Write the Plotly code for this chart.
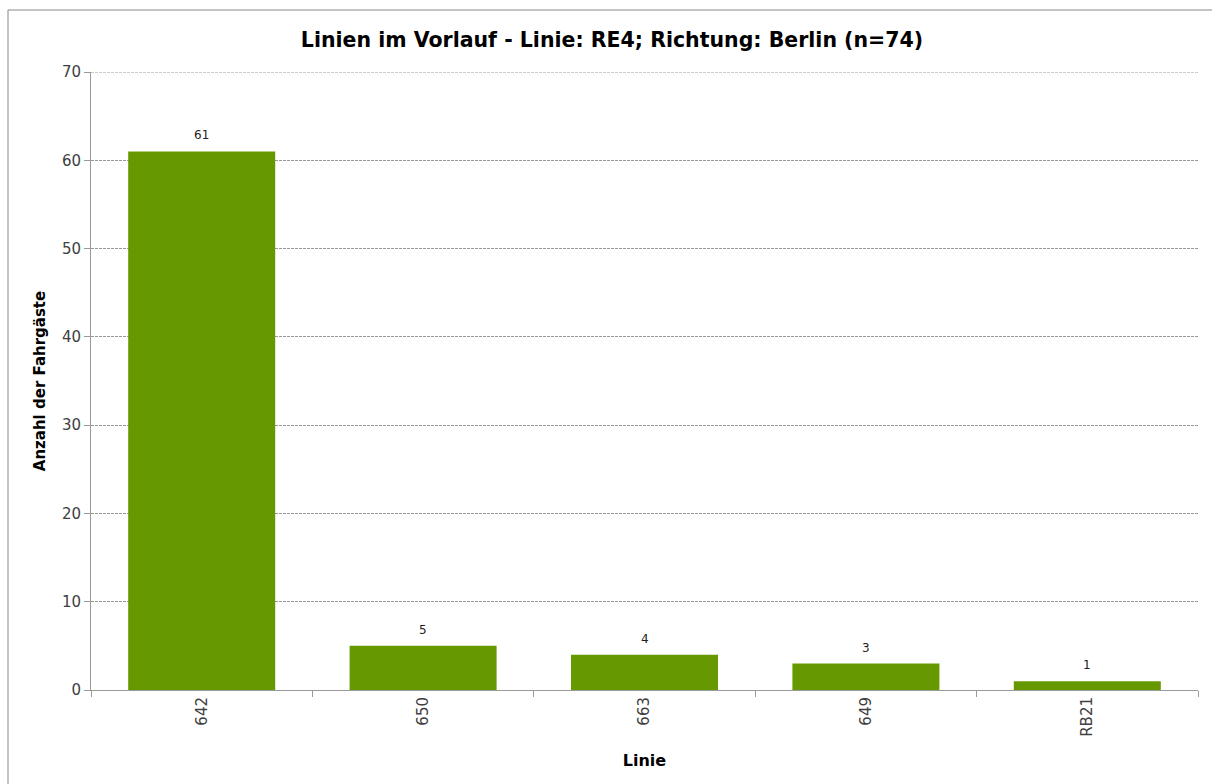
import plotly.graph_objects as go

linien = ["642", "650", "663", "649", "RB21"]
fahrgaeste = [61, 5, 4, 3, 1]
y_ticks = [0, 10, 20, 30, 40, 50, 60, 70]

FONT = "DejaVu Sans"
W, H = 1212, 784
L, R, T, B = 91, 14, 72, 94
pw, ph = W - L - R, H - T - B

def px(x):
    return (x - L) / pw

def py(y):
    return (H - B - y) / ph

fig = go.Figure()
fig.add_trace(go.Bar(
    x=linien, y=fahrgaeste,
    marker=dict(color="#669900", line=dict(width=0)),
    cliponaxis=False,
))

# data labels: on a category axis numeric x means the category index
for idx, val in enumerate(fahrgaeste):
    fig.add_annotation(x=idx, y=val, xref="x", yref="y", text=str(val),
                       showarrow=False, yanchor="middle", yshift=16,
                       font=dict(family=FONT, size=12, color="#222222"))

fig.update_layout(
    width=W, height=H,
    margin=dict(l=L, r=R, t=T, b=B),
    paper_bgcolor="white", plot_bgcolor="white",
    bargap=0.336,
    showlegend=False,
    title=dict(text="<b>Linien im Vorlauf - Linie: RE4; Richtung: Berlin (n=74)</b>",
               x=px(612), xref="paper", xanchor="center",
               y=1 - 40 / H, yref="container", yanchor="middle",
               font=dict(family=FONT, size=20.5, color="black")),
    xaxis=dict(
        type="category", categoryorder="array", categoryarray=linien,
        range=[-0.5, len(linien) - 0.5], tickangle=-90,
        showline=True, linecolor="#999999", linewidth=1,
        ticks="outside", tickson="boundaries", ticklen=6, tickcolor="#999999",
        tickfont=dict(family=FONT, size=15, color="#404040"),
        showgrid=False, zeroline=False,
        title=dict(text="<b>Linie</b>", font=dict(family=FONT, size=16, color="black"), standoff=18),
    ),
    yaxis=dict(
        range=[0, 70], tickvals=y_ticks,
        showline=True, linecolor="#999999", linewidth=1,
        ticks="outside", ticklen=6, tickcolor="#999999",
        tickfont=dict(family=FONT, size=15, color="#404040"),
        showgrid=True, gridcolor="#999999", griddash="3px,1px", gridwidth=1,
        zeroline=False,
        title=dict(text="<b>Anzahl der Fahrgäste</b>", font=dict(family=FONT, size=15, color="black"), standoff=12),
    ),
)

# top gridline at 70 (plotly omits the grid line on the range edge)
fig.add_shape(type="line", xref="paper", yref="y", x0=0, x1=1, y0=70, y1=70,
              line=dict(color="#999999", width=1, dash="3px,1px"))

fig.add_shape(type="rect", xref="paper", yref="paper",
              x0=px(8), x1=px(1220), y0=py(10), y1=py(800),
              line=dict(color="#888888", width=1), fillcolor="rgba(0,0,0,0)", layer="below")

fig.write_html("out.html", config={"displayModeBar": False},
               post_script="document.body.style.margin='0';")
